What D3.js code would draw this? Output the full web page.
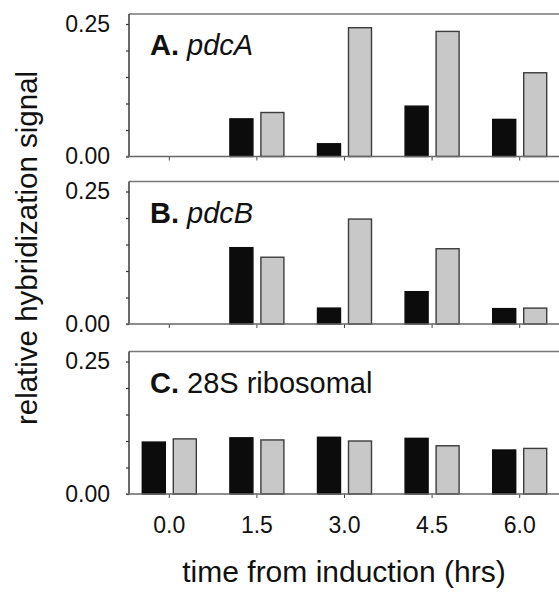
<!DOCTYPE html>
<html>
<head>
<meta charset="utf-8">
<script src="https://cdn.jsdelivr.net/npm/d3@7"></script>
<style>
  body { margin: 0; background: #fff; }
  svg { display: block; font-family: "Liberation Sans", Arial, sans-serif; }
</style>
</head>
<body>
<svg id="graph" width="559" height="595"></svg>
<script>
// time points (hrs)
const times = ["0.0", "1.5", "3.0", "4.5", "6.0"];
const series = ["black", "gray"];

// panel A: pdcA
const pdcABlack = [0, 0.071, 0.024, 0.095, 0.070];
const pdcAGray  = [0, 0.083, 0.243, 0.236, 0.158];
// panel B: pdcB
const pdcBBlack = [0, 0.144, 0.030, 0.061, 0.029];
const pdcBGray  = [0, 0.126, 0.198, 0.142, 0.030];
// panel C: 28S ribosomal
const rib28Black = [0.098, 0.106, 0.107, 0.105, 0.083];
const rib28Gray  = [0.104, 0.102, 0.100, 0.091, 0.086];

const yTicks = [0, 0.05, 0.10, 0.15, 0.20, 0.25];

const panels = [
  { letter: "A.", name: "pdcA", italic: true, black: pdcABlack, gray: pdcAGray },
  { letter: "B.", name: "pdcB", italic: true, black: pdcBBlack, gray: pdcBGray },
  { letter: "C.", name: "28S ribosomal", italic: false, black: rib28Black, gray: rib28Gray }
];

const panelTops = [14, 181.5, 351.5];
const panelH = 142.5;
const axisX = 129;
const rightX = 559;

const svg = d3.select('#graph');

const xScale = d3.scaleBand()
    .domain(times)
    .range([125.5, 563.5])
    .padding(0);

// black / gray bars inside each time slot
const xSub = d3.scaleBand()
    .domain(series)
    .range([xScale.bandwidth() / 2 - 27, xScale.bandwidth() / 2 + 27])
    .paddingInner(8 / 31);

const yScale = d3.scaleLinear()
    .domain([0, 0.25])
    .range([panelH, 10]);

const fills = { black: "#0c0c0c", gray: "#c8c8c8" };
const strokes = { black: "#0c0c0c", gray: "#3c3c3c" };

panels.forEach((p, pi) => {
  const g = svg.append('g')
      .attr('transform', `translate(0, ${panelTops[pi]})`);

  // y axis, labels only at 0.00 and 0.25
  const yAxis = g.append('g')
      .attr('transform', `translate(${axisX}, 0)`)
      .call(d3.axisLeft(yScale)
        .tickValues(yTicks)
        .tickSize(3)
        .tickPadding(16)
        .tickFormat(d => (d === 0 || d === 0.25) ? d3.format(".2f")(d) : ""));
  yAxis.select('.domain').remove();
  yAxis.selectAll('.tick line').attr('stroke', '#333').attr('stroke-width', 1.2);
  yAxis.selectAll('.tick text')
      .attr('font-size', 23)
      .attr('fill', '#111')
      .attr('font-family', '"Liberation Sans", Arial, sans-serif');

  // x ticks below the baseline
  const xAxis = g.append('g')
      .attr('transform', `translate(0, ${panelH})`)
      .call(d3.axisBottom(xScale)
        .tickSize(4)
        .tickPadding(19)
        .tickFormat(d => pi === 2 ? d : ""));
  xAxis.select('.domain').remove();
  xAxis.selectAll('.tick line').attr('stroke', '#444').attr('stroke-width', 1);
  xAxis.selectAll('.tick text')
      .attr('font-size', 23)
      .attr('fill', '#111')
      .attr('font-family', '"Liberation Sans", Arial, sans-serif');

  // frame: top line, left axis line
  g.append('line')
      .attr('x1', axisX).attr('x2', rightX)
      .attr('y1', 0).attr('y2', 0)
      .attr('stroke', '#777').attr('stroke-width', 1.6);
  g.append('line')
      .attr('x1', axisX).attr('x2', axisX)
      .attr('y1', 0).attr('y2', panelH)
      .attr('stroke', '#444').attr('stroke-width', 1.6);

  // bars
  const rows = times.map((t, i) => ({ t: t, black: p.black[i], gray: p.gray[i] }));
  const slot = g.selectAll('.slot')
      .data(rows)
      .enter()
      .append('g')
      .attr('class', 'slot')
      .attr('transform', d => `translate(${xScale(d.t)}, 0)`);

  slot.selectAll('rect')
      .data(d => series.map(s => ({ s: s, v: d[s] })).filter(e => e.v > 0))
      .enter()
      .append('rect')
      .attr('x', d => xSub(d.s))
      .attr('y', d => yScale(d.v))
      .attr('width', xSub.bandwidth())
      .attr('height', d => panelH - yScale(d.v))
      .attr('fill', d => fills[d.s])
      .attr('stroke', d => strokes[d.s])
      .attr('stroke-width', 1.4);

  // baseline
  g.append('line')
      .attr('x1', axisX - 3).attr('x2', rightX)
      .attr('y1', panelH).attr('y2', panelH)
      .attr('stroke', '#666').attr('stroke-width', 1.6);

  // panel label
  const lab = g.append('text')
      .attr('x', 150)
      .attr('y', 41)
      .attr('font-size', 29)
      .attr('fill', '#111');
  lab.append('tspan')
      .attr('font-weight', 'bold')
      .text(p.letter);
  lab.append('tspan')
      .attr('font-style', p.italic ? 'italic' : 'normal')
      .text(" " + p.name);
});

// axis titles
svg.append("text")
    .attr("transform", "rotate(-90)")
    .attr("x", -248)
    .attr("y", 37)
    .attr("text-anchor", "middle")
    .attr("font-size", 29.5)
    .attr("fill", "#111")
    .text("relative hybridization signal");

svg.append("text")
    .attr("x", 344)
    .attr("y", 582)
    .attr("text-anchor", "middle")
    .attr("font-size", 30)
    .attr("fill", "#111")
    .text("time from induction (hrs)");
</script>
</body>
</html>
